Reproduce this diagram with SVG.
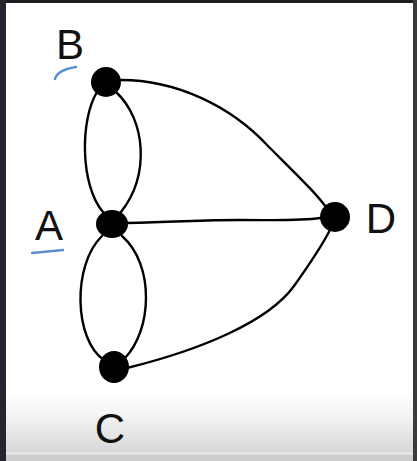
<svg xmlns="http://www.w3.org/2000/svg" width="417" height="461" viewBox="0 0 417 461">
<defs>
<linearGradient id="bot" x1="0" y1="0" x2="0" y2="1">
<stop offset="0" stop-color="#ffffff"/>
<stop offset="0.4" stop-color="#f4f4f4"/>
<stop offset="1" stop-color="#d8d8d8"/>
</linearGradient>
<style>
.edge{fill:none;stroke:#000;stroke-width:2.4;stroke-linecap:round;stroke-linejoin:round}
.node{fill:#000}
.lbl{font-family:"Liberation Sans","DejaVu Sans",sans-serif;font-size:42px;fill:#111;text-anchor:middle}
.mark{fill:none;stroke:#5b8fd0;stroke-width:2.5;stroke-linecap:round}
</style>
</defs>
<rect x="0" y="0" width="417" height="461" fill="#ffffff"/>
<rect x="0" y="390" width="417" height="62" fill="url(#bot)"/>
<rect x="0" y="452" width="417" height="3" fill="#e4e4e4"/>
<rect x="0" y="455" width="417" height="6" fill="#cdcdcd"/>
<rect x="0" y="0" width="417" height="3" fill="#1e1e22"/>
<rect x="0" y="0" width="6" height="461" fill="#24262c"/>
<rect x="413" y="0" width="4" height="461" fill="#3a3a3c"/>
<g id="connectors">
<path class="edge" d="M97,92 C80,120 80,185 103,212"/>
<path class="edge" d="M116,92 C146,120 150,175 121,212"/>
<path class="edge" d="M102,236 C72,265 74,340 104,360"/>
<path class="edge" d="M122,236 C155,265 152,330 125,358"/>
<path class="edge" d="M121,80 C175,80 230,105 268,146 C298,176 318,195 328,210"/>
<path class="edge" d="M127,223 C180,222 200,220 240,220 C280,220 300,221 320,218"/>
<path class="edge" d="M127,368 C200,350 268,322 294,286 C314,258 325,240 331,228"/>
</g>
<g id="node-B">
<circle class="node" cx="106" cy="82" r="15"/>
<text class="lbl" x="70" y="59">B</text>
<path class="mark" d="M55,79 Q57,70 76,67"/>
</g>
<g id="node-A">
<ellipse class="node" cx="112" cy="224" rx="16" ry="14"/>
<text class="lbl" x="49" y="240">A</text>
<path class="mark" d="M32,253 L63,250"/>
</g>
<g id="node-C">
<ellipse class="node" cx="114" cy="367" rx="15" ry="16"/>
<text class="lbl" x="110" y="443">C</text>
</g>
<g id="node-D">
<circle class="node" cx="335" cy="217" r="15"/>
<text class="lbl" x="381" y="233">D</text>
</g>
</svg>
